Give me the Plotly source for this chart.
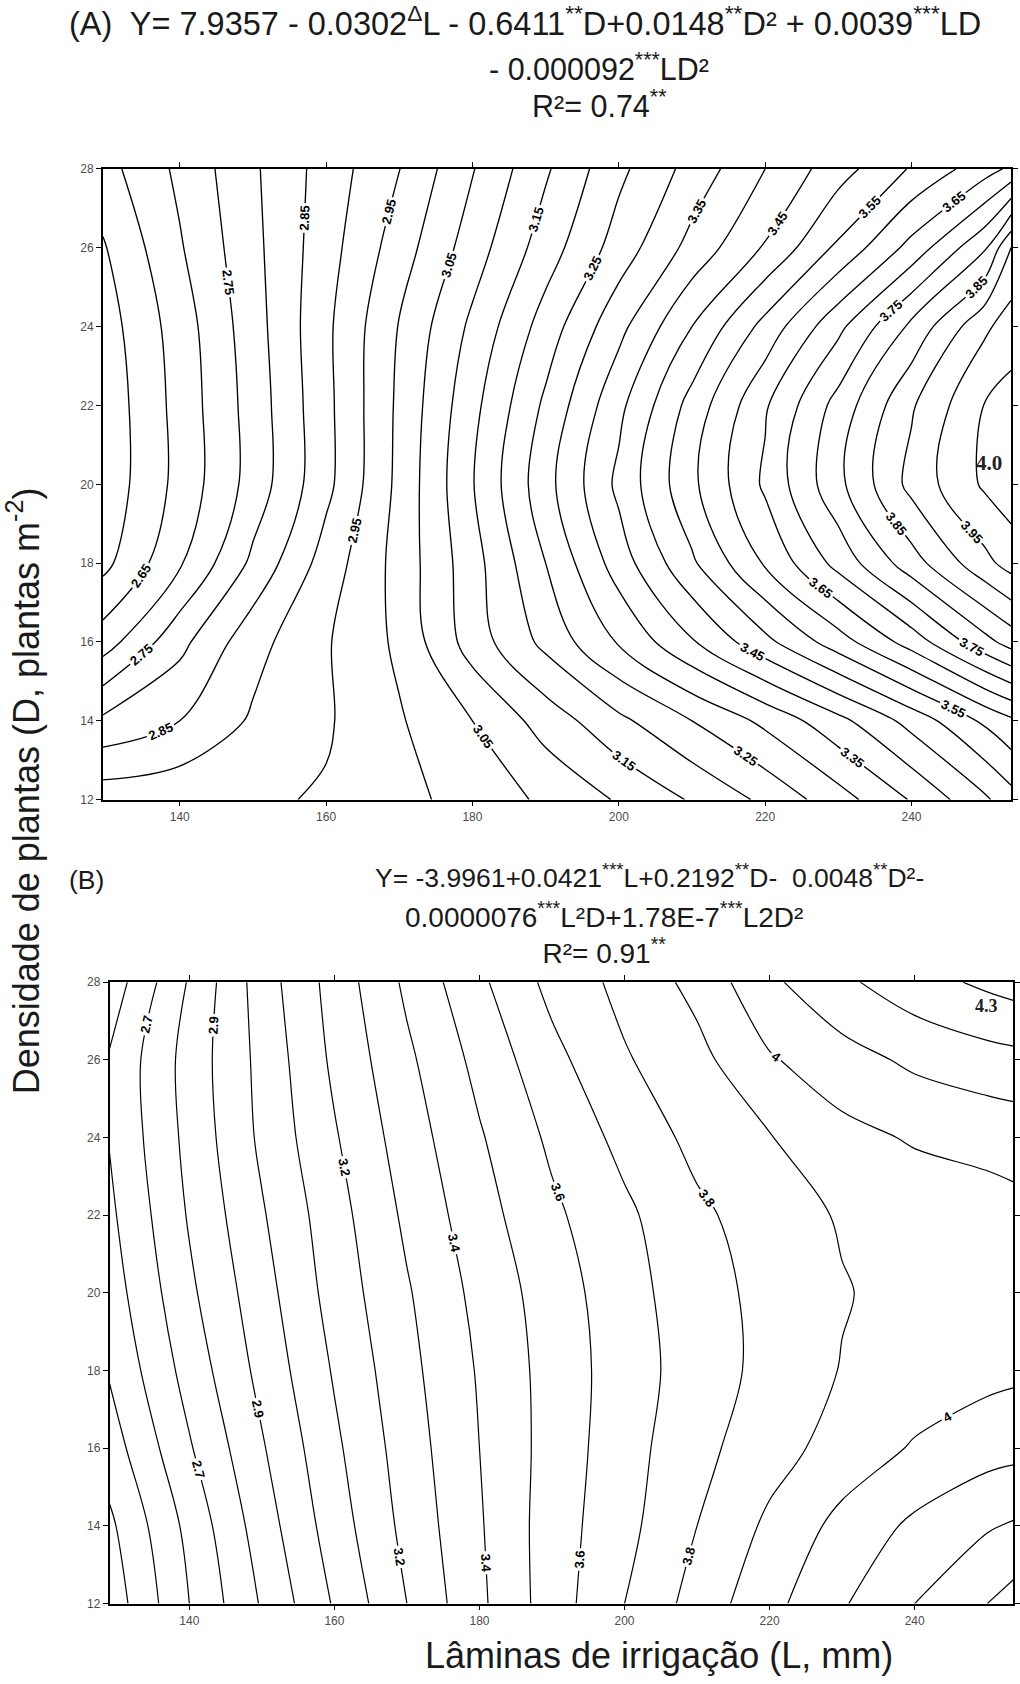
import plotly.graph_objects as go

W, H = 1020, 1684

# ---------------- Panel A: fitted yield surface read on a grid ----------------
lam_a = [129.5, 140, 150, 160, 170, 180, 190, 200, 210, 220, 230, 240, 250, 253.6]
dens_a = [12, 14, 16, 18, 20, 22, 24, 26, 28]
yield_a = [
    [2.930, 2.937, 2.942, 2.955, 2.985, 3.019, 3.059, 3.105, 3.155, 3.211, 3.279, 3.354, 3.441, 3.480],
    [2.810, 2.850, 2.907, 2.944, 2.995, 3.050, 3.121, 3.188, 3.250, 3.312, 3.385, 3.468, 3.559, 3.590],
    [2.675, 2.785, 2.882, 2.945, 3.010, 3.123, 3.214, 3.305, 3.395, 3.486, 3.577, 3.672, 3.783, 3.820],
    [2.585, 2.694, 2.811, 2.922, 3.018, 3.130, 3.250, 3.374, 3.492, 3.606, 3.717, 3.828, 3.935, 3.970],
    [2.565, 2.666, 2.770, 2.886, 3.013, 3.147, 3.282, 3.412, 3.539, 3.659, 3.787, 3.916, 4.008, 4.030],
    [2.565, 2.668, 2.771, 2.886, 3.010, 3.135, 3.260, 3.387, 3.519, 3.644, 3.769, 3.894, 4.002, 4.020],
    [2.575, 2.674, 2.778, 2.889, 3.003, 3.111, 3.222, 3.335, 3.450, 3.567, 3.687, 3.812, 3.940, 3.975],
    [2.595, 2.695, 2.786, 2.879, 2.975, 3.075, 3.175, 3.272, 3.367, 3.455, 3.560, 3.667, 3.793, 3.900],
    [2.630, 2.711, 2.792, 2.871, 2.949, 3.047, 3.143, 3.238, 3.318, 3.400, 3.479, 3.555, 3.629, 3.660],
]

# ---------------- Panel B ----------------
lam_b = [129, 140, 150, 160, 170, 180, 190, 200, 210, 220, 230, 240, 250, 253.6]
dens_b = [12, 14, 16, 18, 20, 22, 24, 26, 28]
yield_b = [
    [2.34, 2.60, 2.81, 3.01, 3.20, 3.38, 3.55, 3.70, 3.84, 3.97, 4.09, 4.20, 4.30, 4.34],
    [2.38, 2.63, 2.85, 3.05, 3.23, 3.39, 3.55, 3.67, 3.80, 3.92, 4.03, 4.12, 4.19, 4.21],
    [2.45, 2.69, 2.89, 3.08, 3.25, 3.40, 3.54, 3.66, 3.77, 3.86, 3.94, 4.01, 4.06, 4.07],
    [2.51, 2.74, 2.93, 3.11, 3.27, 3.41, 3.54, 3.65, 3.75, 3.83, 3.905, 3.94, 3.97, 3.98],
    [2.55, 2.78, 2.96, 3.14, 3.29, 3.43, 3.55, 3.66, 3.76, 3.83, 3.893, 3.935, 3.94, 3.95],
    [2.58, 2.81, 2.99, 3.16, 3.32, 3.46, 3.58, 3.68, 3.78, 3.85, 3.91, 3.94, 3.96, 3.97],
    [2.605, 2.83, 3.02, 3.19, 3.35, 3.49, 3.62, 3.73, 3.83, 3.895, 3.97, 4.01, 4.03, 4.04],
    [2.61, 2.84, 3.03, 3.22, 3.38, 3.53, 3.67, 3.79, 3.87, 3.99, 4.06, 4.12, 4.16, 4.17],
    [2.54, 2.81, 3.05, 3.24, 3.42, 3.58, 3.73, 3.83, 3.93, 4.08, 4.18, 4.26, 4.32, 4.34],
]

x_ticks = [140, 160, 180, 200, 220, 240]
y_ticks = [12, 14, 16, 18, 20, 22, 24, 26, 28]

# contour levels: (start, end, step, labelled)
# labelled groups carry extra empty levels above the surface so that
# plotly spreads more than one label along each long isoline
levels_a = [
    (2.60, 4.05, 0.1, False),
    (2.65, 7.05, 0.1, True),
]
levels_b_plain = [
    (2.3, 2.65, 0.1),
    (2.8, 3.05, 0.2),
    (3.1, 3.95, 0.2),
    (4.1, 4.45, 0.1),
]
levels_b_labelled = [2.7, 2.9, 3.2, 3.4, 3.6, 3.8, 4.0]

label_font = dict(family="Liberation Sans", size=13, color="black", weight="bold")
black = [[0, "black"], [1, "black"]]

fig = go.Figure()


def add_contour(x, y, z, xa, ya, start, end, step, lab, fmt, lw):
    fig.add_trace(go.Contour(
        x=x, y=y, z=z, xaxis=xa, yaxis=ya,
        autocontour=False,
        contours=dict(start=start, end=end, size=step, coloring="lines",
                      showlabels=lab, labelformat=fmt, labelfont=label_font),
        line=dict(width=lw, smoothing=1.0),
        colorscale=black, showscale=False, hoverinfo="skip",
    ))


for s, e, st, lab in levels_a:
    add_contour(lam_a, dens_a, yield_a, "x", "y", s, e, st, lab, ".2f", 1.35)

for s, e, st in levels_b_plain:
    add_contour(lam_b, dens_b, yield_b, "x2", "y2", s, e, st, False, ".1~f", 1.2)
for lv in levels_b_labelled:
    # a step wider than the data range keeps a single isoline inside the map
    add_contour(lam_b, dens_b, yield_b, "x2", "y2", lv, lv + 2.5 * 49, 2.5, True, ".1~f", 1.2)


def px_x(v):
    return v / W


def px_y(v):
    return 1 - v / H


axis_common = dict(
    showline=True, linecolor="black", linewidth=1.6, mirror="ticks",
    ticks="outside", ticklen=5, tickwidth=1.3, tickcolor="black",
    showgrid=False, zeroline=False,
    tickfont=dict(family="Liberation Sans", size=12, color="#4d4d4d"),
)

fig.update_layout(
    width=W, height=H,
    margin=dict(l=0, r=0, t=0, b=0),
    paper_bgcolor="white", plot_bgcolor="white",
    showlegend=False,
    xaxis=dict(axis_common, domain=[px_x(103.3), px_x(1015)], range=[129.5, 253.6],
               tickvals=x_ticks, anchor="y"),
    yaxis=dict(axis_common, domain=[px_y(799.3), px_y(163.3)], range=[12, 28],
               tickvals=y_ticks, anchor="x"),
    xaxis2=dict(axis_common, domain=[px_x(110), px_x(1017.3)], range=[129, 253.6],
                tickvals=x_ticks, anchor="y2"),
    yaxis2=dict(axis_common, domain=[px_y(1610), px_y(983.3)], range=[12, 28],
                tickvals=y_ticks, anchor="x2"),
)

ink = "#1a1a1a"
font_a1 = dict(family="Liberation Sans", size=32.5, color=ink)
font_a2 = dict(family="Liberation Sans", size=30.5, color=ink)
font_b1 = dict(family="Liberation Sans", size=26.5, color=ink)
font_b2 = dict(family="Liberation Sans", size=28, color=ink)
axis_title_font = dict(family="Liberation Sans", size=36, color=ink)

notes = [
    # panel A equation
    dict(text="(A)  Y= 7.9357 - 0.0302<sup>Δ</sup>L - 0.6411<sup>**</sup>D+0.0148<sup>**</sup>D² + 0.0039<sup>***</sup>LD",
         x=px_x(67), y=px_y(14), xanchor="left", font=font_a1),
    dict(text="- 0.000092<sup>***</sup>LD²", x=px_x(601), y=px_y(60), xanchor="center", font=font_a2),
    dict(text="R²= 0.74<sup>**</sup>", x=px_x(601), y=px_y(98), xanchor="center", font=font_a2),
    # panel B equation
    dict(text="(B)", x=px_x(67), y=px_y(880), xanchor="left", font=font_b1),
    dict(text="Y= -3.9961+0.0421<sup>***</sup>L+0.2192<sup>**</sup>D-  0.0048<sup>**</sup>D²-",
         x=px_x(652), y=px_y(876), xanchor="center", font=font_b1),
    dict(text="0.0000076<sup>***</sup>L²D+1.78E-7<sup>***</sup>L2D²<br>R²= 0.91<sup>**</sup>",
         x=px_x(606), y=px_y(934), xanchor="center", align="center", font=font_b2),
    # axis titles
    dict(text="Lâminas de irrigação (L, mm)", x=px_x(662), y=px_y(1662), xanchor="center",
         font=axis_title_font),
    dict(text="Densidade de plantas (D, plantas m<sup>-2</sup>)", x=px_x(24), y=px_y(790),
         xanchor="center", textangle=-90, font=axis_title_font),
    # peak values marked on the maps
    dict(text="4.0", x=px_x(993), y=px_y(460), xanchor="center",
         font=dict(family="Liberation Serif", size=21, color="#222222", weight="bold")),
    dict(text="4.3", x=px_x(990), y=px_y(1007), xanchor="center",
         font=dict(family="Liberation Serif", size=18, color="#222222", weight="bold")),
]
for n in notes:
    n.setdefault("yanchor", "middle")
    fig.add_annotation(xref="paper", yref="paper", showarrow=False, **n)

fig.write_html("out.html")
